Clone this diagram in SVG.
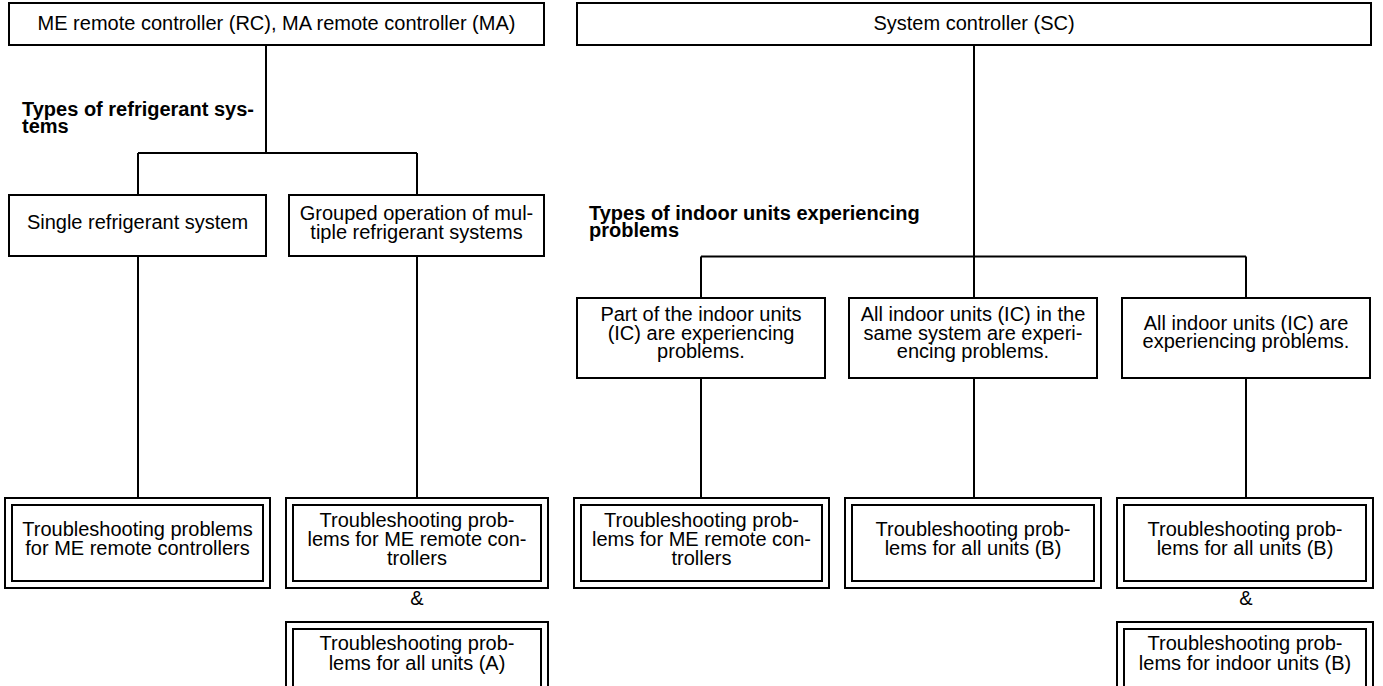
<svg xmlns="http://www.w3.org/2000/svg" width="1383" height="686" viewBox="0 0 1383 686">
<style>
.box{fill:#fff;stroke:#000;stroke-width:2}
.ln{fill:none;stroke:#000;stroke-width:2}
.t{font-family:"Liberation Sans",Arial,sans-serif;font-size:20px;fill:#000;text-anchor:middle}
.b{font-family:"Liberation Sans",Arial,sans-serif;font-size:20px;font-weight:bold;fill:#000}
</style>
<rect width="1383" height="686" fill="#fff"/>
<g id="connectors">
<path class="ln" d="M266 45V153M138 153H417M138 153V195M417 153V195"/>
<path class="ln" d="M138 256V498M417 256V498"/>
<path class="ln" d="M974 45V298M701 256.5H1246M701 256.5V298M1246 256.5V298"/>
<path class="ln" d="M701 378V498M974 378V498M1246 378V498"/>
</g>
<g id="label-refrigerant">
<text class="b" x="22" y="116">Types of refrigerant sys-<tspan x="22" dy="16.5">tems</tspan></text>
</g>
<g id="label-indoor">
<text class="b" x="589" y="220">Types of indoor units experiencing<tspan x="589" dy="16.5">problems</tspan></text>
</g>
<g id="n-rc">
<rect class="box" x="9" y="3" width="535" height="42"/>
<text class="t" x="276.5" y="29.5">ME remote controller (RC), MA remote controller (MA)</text>
</g>
<g id="n-sc">
<rect class="box" x="577" y="3" width="794" height="42"/>
<text class="t" x="974" y="29.5">System controller (SC)</text>
</g>
<g id="n-single">
<rect class="box" x="9" y="195" width="257" height="61"/>
<text class="t" x="137.5" y="229">Single refrigerant system</text>
</g>
<g id="n-grouped">
<rect class="box" x="289" y="195" width="255" height="61"/>
<text class="t" x="416.5" y="220">Grouped operation of mul-<tspan x="416.5" dy="18.5">tiple refrigerant systems</tspan></text>
</g>
<g id="n-ts-me-1">
<rect class="box" x="5" y="498" width="265" height="90"/>
<rect class="box" x="12" y="505" width="251" height="76"/>
<text class="t" x="137.5" y="535.5">Troubleshooting problems<tspan x="137.5" dy="19.5">for ME remote controllers</tspan></text>
</g>
<g id="n-ts-me-2">
<rect class="box" x="286" y="498" width="262" height="90"/>
<rect class="box" x="293" y="505" width="248" height="76"/>
<text class="t" x="417" y="527">Troubleshooting prob-<tspan x="417" dy="19">lems for ME remote con-</tspan><tspan x="417" dy="19">trollers</tspan></text>
</g>
<g id="amp-1"><text class="t" x="417" y="605">&amp;</text></g>
<g id="n-ts-all-a">
<rect class="box" x="286" y="622" width="262" height="90"/>
<rect class="box" x="293" y="629" width="248" height="76"/>
<text class="t" x="417" y="650">Troubleshooting prob-<tspan x="417" dy="19.5">lems for all units (A)</tspan></text>
</g>
<g id="n-part">
<rect class="box" x="577" y="298" width="248" height="80"/>
<text class="t" x="701" y="321">Part of the indoor units<tspan x="701" dy="18.5">(IC) are experiencing</tspan><tspan x="701" dy="18.5">problems.</tspan></text>
</g>
<g id="n-same">
<rect class="box" x="849" y="298" width="248" height="80"/>
<text class="t" x="973" y="321">All indoor units (IC) in the<tspan x="973" dy="18.5">same system are experi-</tspan><tspan x="973" dy="18.5">encing problems.</tspan></text>
</g>
<g id="n-all">
<rect class="box" x="1122" y="298" width="248" height="80"/>
<text class="t" x="1246" y="329.5">All indoor units (IC) are<tspan x="1246" dy="18.5">experiencing problems.</tspan></text>
</g>
<g id="n-ts-me-3">
<rect class="box" x="574" y="498" width="255" height="90"/>
<rect class="box" x="581" y="505" width="241" height="76"/>
<text class="t" x="701.5" y="527">Troubleshooting prob-<tspan x="701.5" dy="19">lems for ME remote con-</tspan><tspan x="701.5" dy="19">trollers</tspan></text>
</g>
<g id="n-ts-all-b1">
<rect class="box" x="845" y="498" width="256" height="90"/>
<rect class="box" x="852" y="505" width="242" height="76"/>
<text class="t" x="973" y="535.5">Troubleshooting prob-<tspan x="973" dy="19.5">lems for all units (B)</tspan></text>
</g>
<g id="n-ts-all-b2">
<rect class="box" x="1117" y="498" width="256" height="90"/>
<rect class="box" x="1124" y="505" width="242" height="76"/>
<text class="t" x="1245" y="535.5">Troubleshooting prob-<tspan x="1245" dy="19.5">lems for all units (B)</tspan></text>
</g>
<g id="amp-2"><text class="t" x="1246" y="605">&amp;</text></g>
<g id="n-ts-indoor-b">
<rect class="box" x="1117" y="622" width="256" height="90"/>
<rect class="box" x="1124" y="629" width="242" height="76"/>
<text class="t" x="1245" y="650">Troubleshooting prob-<tspan x="1245" dy="19.5">lems for indoor units (B)</tspan></text>
</g>
</svg>
